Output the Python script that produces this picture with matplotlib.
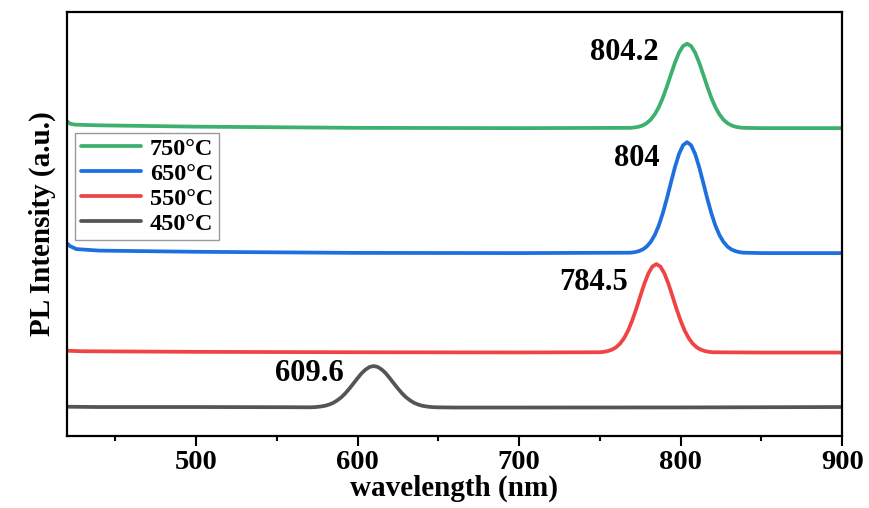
import matplotlib
matplotlib.use("Agg")
import matplotlib.pyplot as plt
from matplotlib.ticker import MultipleLocator

plt.rcParams['font.family'] = ['Liberation Serif', 'DejaVu Serif']
plt.rcParams['font.weight'] = 'bold'

# ---- data ----
wl_450 = [420, 440, 500, 560, 570, 572.5, 575, 577.5, 580, 582.5, 585, 587.5, 590, 592.5, 595,
          597.5, 600, 602.5, 605, 607.5, 610, 612.5, 615, 617.5, 620, 622.5, 625, 627.5, 630,
          632.5, 635, 637.5, 640, 642.5, 645, 647.5, 650, 660, 700, 800, 900]
pl_450 = [29.3, 29.0, 29.0, 28.8, 28.7, 28.8, 29.1, 29.6, 30.3, 31.5, 33.2, 35.7, 38.8, 42.8, 47.5,
          52.6, 57.8, 62.7, 66.5, 69.1, 70.0, 69.1, 66.5, 62.7, 57.8, 52.6, 47.5, 42.8, 38.8,
          35.7, 33.2, 31.5, 30.3, 29.6, 29.1, 28.8, 28.7, 28.5, 28.5, 28.6, 29.0]

wl_550 = [420, 430, 500, 600, 700, 750, 752.5, 755, 757.5, 760, 762.5, 765, 767.5, 770, 772.5,
          775, 777.5, 780, 782.5, 785, 787.5, 790, 792.5, 795, 797.5, 800, 802.5, 805, 807.5,
          810, 812.5, 815, 817.5, 820, 850, 900]
pl_550 = [85.3, 84.8, 84.2, 83.8, 83.6, 83.8, 84.2, 85.0, 86.4, 88.7, 92.4, 97.9, 105.5, 115.4, 127.0,
          139.7, 152.1, 162.5, 169.5, 172.0, 169.5, 162.5, 152.1, 139.7, 127.0, 115.4, 105.5, 97.9, 92.4,
          88.7, 86.4, 85.0, 84.2, 83.8, 83.5, 83.5]

wl_650 = [420, 422, 426, 440, 500, 600, 700, 769, 771.5, 774, 776.5, 779, 781.5, 784, 786.5, 789,
          791.5, 794, 796.5, 799, 801.5, 804, 806.5, 809, 811.5, 814, 816.5, 819, 821.5, 824,
          826.5, 829, 831.5, 834, 836.5, 839, 850, 900]
pl_650 = [193.0, 190.0, 187.0, 185.5, 184.3, 183.2, 183.0, 183.4, 183.9, 184.9, 186.6, 189.5, 194.2, 201.1,
          210.6, 223.0, 237.6, 253.5, 269.0, 282.1, 290.9, 294.0, 290.9, 282.1, 269.0, 253.5,
          237.6, 223.0, 210.6, 201.1, 194.2, 189.5, 186.6, 184.9, 183.9, 183.4, 183.0, 183.0]

wl_750 = [420, 422, 425, 440, 500, 600, 700, 769, 771.5, 774, 776.5, 779, 781.5, 784, 786.5, 789,
          791.5, 794, 796.5, 799, 801.5, 804, 806.5, 809, 811.5, 814, 816.5, 819, 821.5, 824,
          826.5, 829, 831.5, 834, 836.5, 839, 850, 900]
pl_750 = [315.0, 312.5, 311.5, 310.8, 309.5, 308.3, 308.0, 308.3, 308.7, 309.4, 310.7, 313.0, 316.5, 321.8,
          329.0, 338.4, 349.6, 361.7, 373.5, 383.5, 390.1, 392.5, 390.1, 383.5, 373.5, 361.7,
          349.6, 338.4, 329.0, 321.8, 316.5, 313.0, 310.7, 309.4, 308.7, 308.3, 308.0, 308.0]

labels = ['750°C', '650°C', '550°C', '450°C']
peak_labels = ['804.2', '804', '784.5', '609.6']
peak_label_pos = [(765, 384), (773, 278), (746, 154), (570, 63)]

colors = ['#3cb06c', '#1e6fe0', '#f04444', '#555555']

fig = plt.figure(figsize=(8.7, 5.08), dpi=100)
ax = fig.add_axes([0.0767, 0.1417, 0.968 - 0.0767, 0.976 - 0.1417])

series = [(wl_750, pl_750), (wl_650, pl_650), (wl_550, pl_550), (wl_450, pl_450)]
for (x, y), lab, c in zip(series, labels, colors):
    ax.plot(x, y, color=c, lw=2.7, label=lab, solid_capstyle='round')

for txt, (px, py) in zip(peak_labels, peak_label_pos):
    ax.text(px, py, txt, fontsize=22, fontweight='bold', ha='center', va='center')

ax.set_xlim(420, 900)
ax.set_ylim(0, 424)
ax.xaxis.set_major_locator(MultipleLocator(100))
ax.xaxis.set_minor_locator(MultipleLocator(50))
ax.set_yticks([])
ax.tick_params(axis='x', which='major', length=7, width=1.5, direction='out', labelsize=20.5, pad=3)
ax.tick_params(axis='x', which='minor', length=3.5, width=1.5, direction='out')
for lbl in ax.get_xticklabels():
    lbl.set_fontweight('bold')
for s in ax.spines.values():
    s.set_linewidth(1.6)

ax.set_xlabel('wavelength (nm)', fontsize=21, fontweight='bold', labelpad=0)
ax.set_ylabel('PL Intensity (a.u.)', fontsize=21, fontweight='bold', labelpad=8)

leg = ax.legend(loc='upper left', bbox_to_anchor=(0.011, 0.716), fontsize=17.5,
                frameon=True, fancybox=False, edgecolor='#999999', framealpha=1,
                handlelength=2.5, handletextpad=0.35, labelspacing=0.12,
                borderpad=0.22, borderaxespad=0)
leg.get_frame().set_linewidth(1.0)
for t in leg.get_texts():
    t.set_fontweight('bold')

fig.savefig('out.png', dpi=100)
